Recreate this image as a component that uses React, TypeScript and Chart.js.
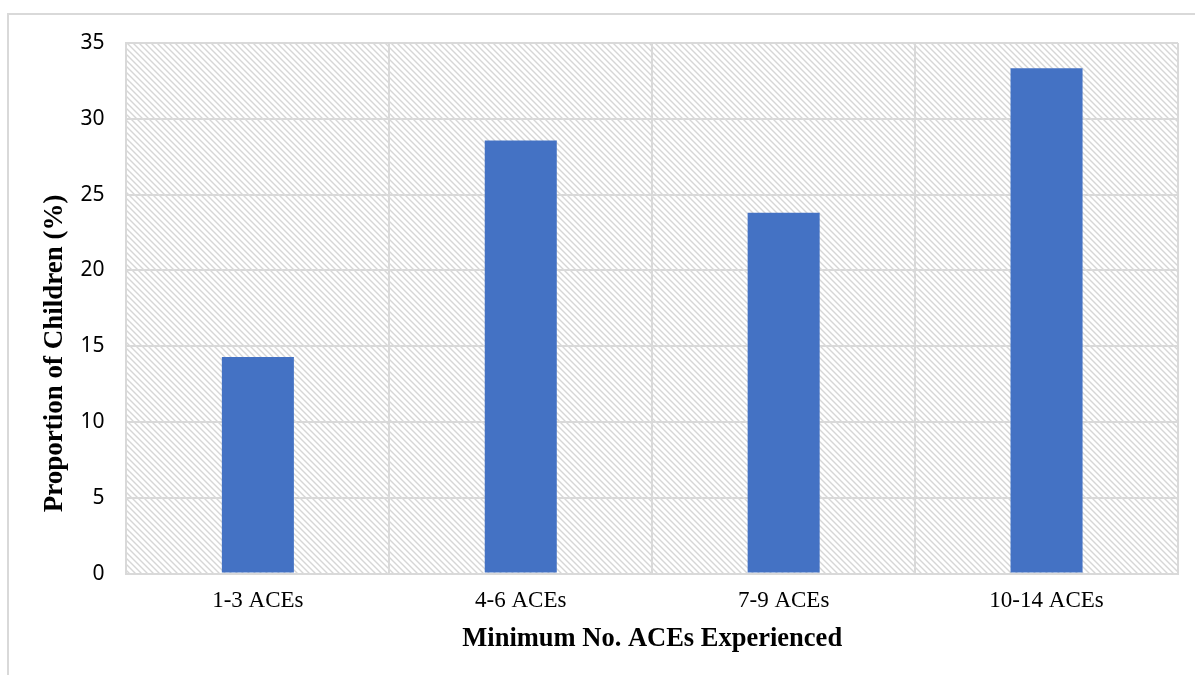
import React, { useEffect, useRef } from "react";
import { Chart, registerables } from "chart.js";

Chart.register(...registerables);

const categories = ["1-3 ACEs", "4-6 ACEs", "7-9 ACEs", "10-14 ACEs"];
const proportions = [14.29, 28.57, 23.81, 33.33];
const yTicks = [0, 5, 10, 15, 20, 25, 30, 35];
const yTitleText = "Proportion of Children (%)";
const titleFamily = "'Liberation Serif', 'Times New Roman', serif";

function makePattern(): CanvasPattern | string {
  const s = 6;
  const c = document.createElement("canvas");
  c.width = s;
  c.height = s;
  const g = c.getContext("2d");
  if (!g) return "#ffffff";
  g.fillStyle = "#ffffff";
  g.fillRect(0, 0, s, s);
  g.strokeStyle = "#d6d6d6";
  g.lineWidth = 1.4;
  g.beginPath();
  g.moveTo(-1, -1);
  g.lineTo(s + 1, s + 1);
  g.moveTo(-1, s - 1);
  g.lineTo(1, s + 1);
  g.moveTo(s - 1, -1);
  g.lineTo(s + 1, 1);
  g.stroke();
  const p = g.createPattern(c, "repeat");
  return p || "#ffffff";
}

const hatchPlugin = {
  id: "hatchBg",
  beforeDraw(chart: any) {
    const { ctx, chartArea } = chart;
    if (!chartArea) return;
    ctx.save();
    ctx.fillStyle = makePattern();
    ctx.fillRect(
      chartArea.left,
      chartArea.top,
      chartArea.right - chartArea.left,
      chartArea.bottom - chartArea.top
    );
    ctx.restore();
  },
};

// Draws the y-axis title slightly below the plot's centre, as in the reference.
const yTitlePlugin = {
  id: "yTitleShift",
  afterDraw(chart: any) {
    const { ctx, chartArea, scales } = chart;
    const y = scales.y;
    if (!y || !chartArea) return;
    const size = 27;
    ctx.save();
    ctx.font = `bold ${size}px ${titleFamily}`;
    ctx.fillStyle = "#000000";
    ctx.textAlign = "center";
    ctx.textBaseline = "middle";
    const cx = y.left + (size * 1.2) / 2;
    const cy = (chartArea.top + chartArea.bottom) / 2 + 45;
    ctx.translate(cx, cy);
    ctx.rotate(-Math.PI / 2);
    ctx.fillText(yTitleText, 0, 0);
    ctx.restore();
  },
};

export default function App() {
  const ref = useRef<HTMLCanvasElement | null>(null);

  useEffect(() => {
    if (!ref.current) return;
    const chart = new Chart(ref.current, {
      type: "bar",
      data: {
        labels: categories,
        datasets: [
          {
            data: proportions,
            backgroundColor: "#4472C4",
            borderWidth: 0,
            categoryPercentage: 1,
            barPercentage: 0.274,
          },
        ],
      },
      options: {
        animation: false,
        responsive: false,
        maintainAspectRatio: false,
        layout: { padding: { left: 39, right: 17, top: 43, bottom: 20 } },
        plugins: {
          legend: { display: false },
          tooltip: { enabled: false },
        },
        scales: {
          x: {
            grid: {
              color: "#d9d9d9",
              lineWidth: 2,
              drawTicks: false,
              offset: true,
            },
            border: { display: true, color: "#d9d9d9", width: 2 },
            ticks: {
              padding: 14,
              color: "#000000",
              font: { family: titleFamily, size: 23 },
            },
            title: {
              display: true,
              text: "Minimum No. ACEs Experienced",
              color: "#000000",
              padding: { top: -6, bottom: 0 },
              font: {
                family: titleFamily,
                size: 26.5,
                weight: "bold",
              },
            },
          },
          y: {
            min: 0,
            max: 35,
            afterBuildTicks: (axis: any) => {
              axis.ticks = yTicks.map((v) => ({ value: v }));
            },
            grid: { color: "#d9d9d9", lineWidth: 2, drawTicks: false },
            border: { display: true, color: "#d9d9d9", width: 2 },
            ticks: {
              padding: 22,
              color: "#000000",
              font: { family: "'Noto Sans', sans-serif", size: 21 },
            },
            title: {
              display: true,
              text: yTitleText,
              color: "rgba(0,0,0,0)",
              padding: { top: 0, bottom: -13 },
              font: {
                family: titleFamily,
                size: 27,
                weight: "bold",
              },
            },
          },
        },
      },
      plugins: [hatchPlugin, yTitlePlugin],
    });
    return () => chart.destroy();
  }, []);

  return (
    <div style={{ position: "fixed", left: 0, top: 0, width: 1195, height: 675, background: "#ffffff", overflow: "hidden" }}>
      <div
        style={{
          position: "absolute",
          left: 7,
          top: 13,
          width: 1200,
          height: 700,
          borderTop: "2px solid #d9d9d9",
          borderLeft: "2px solid #d9d9d9",
        }}
      />
      <canvas ref={ref} width={1195} height={675} style={{ position: "absolute", left: 0, top: 0, width: 1195, height: 675 }} />
    </div>
  );
}
